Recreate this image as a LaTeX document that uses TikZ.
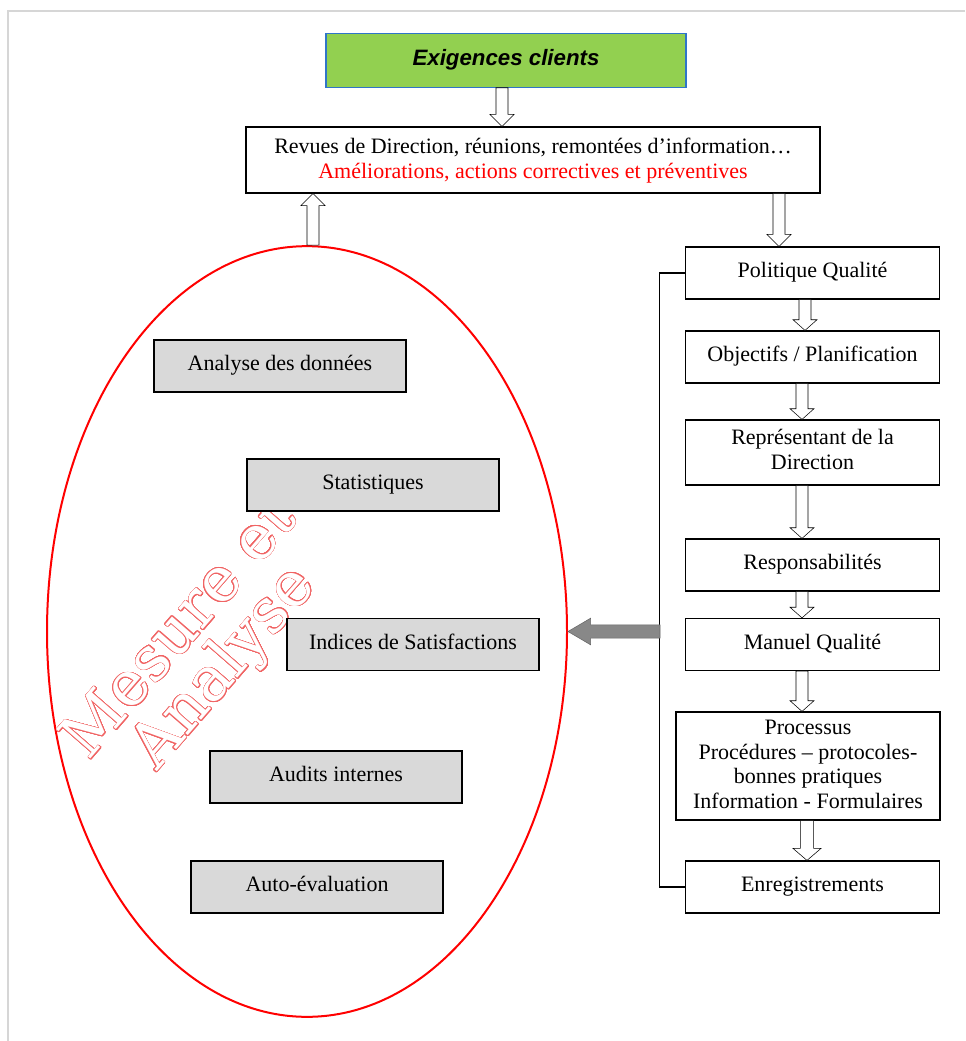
\documentclass[tikz,border=0pt]{standalone}
\usepackage{fontspec}
\setmainfont{Liberation Serif}
\newfontfamily\arialfont{Liberation Sans}
\newfontfamily\wordartfont{DejaVu Serif}
\usepackage{contour}
\contourlength{0.45pt}
\contournumber{32}
\usetikzlibrary{shapes,arrows}
\usetikzlibrary{calc,positioning}
\definecolor{exgreen}{RGB}{146,208,80}
\definecolor{exblue}{RGB}{47,117,200}
\definecolor{boxgray}{RGB}{217,217,217}
\definecolor{framegray}{RGB}{214,214,214}
\definecolor{arrowgray}{RGB}{136,136,136}
\definecolor{wordred}{RGB}{240,100,100}
\newcommand{\blockarrow}[6][fill=white]{
	\coordinate (bh) at ($(#3)!#6!(#2)$);
	\draw [#1] ($(#2)!#4!90:(#3)$) -- ($(bh)!#4!-90:(#2)$) -- ($(bh)!#5!-90:(#2)$) -- (#3) -- ($(bh)!#5!90:(#2)$) -- ($(bh)!#4!90:(#2)$) -- ($(#2)!#4!-90:(#3)$) -- cycle;
}
\newcommand{\wordart}[1]{\contour{wordred}{#1}}

\begin{document}
\begin{tikzpicture}[x=0.75pt,y=-0.75pt,
	qbox/.style={draw,fill=white,line width=0.9pt,minimum width=191pt,minimum height=39pt,text depth=0.45em,align=center,font=\fontsize{16.5}{18.5}\selectfont},
	gbox/.style={qbox,fill=boxgray,minimum width=189pt}]
\useasboundingbox (0,0) rectangle (965,1041);
\draw [framegray,line width=1.5pt] (8,1041)--(8,11)--(965,11);

\node [ellipse,draw=red,line width=1.5pt,minimum width=390pt,minimum height=578pt,inner sep=0pt] (meas) at (307,631.5) {};
\node [rotate=49,align=center,text=white,font=\wordartfont\fontsize{46.5}{43.5}\selectfont] (wm) at (204,650) {\wordart{Mesure et}\\\wordart{Analyse}};

\node [draw=exblue,fill=exgreen,line width=0.9pt,minimum width=270pt,minimum height=40pt,text depth=0.45em,font=\arialfont\bfseries\itshape\fontsize{16.7}{18}\selectfont] (ex) at (506,60.5) {Exigences clients};
\node [qbox,minimum width=430.5pt,minimum height=49.5pt,text depth=0.3em] (rev) at (533,160) {Revues de Direction, réunions, remontées d’information…\\\textcolor{red}{Améliorations, actions correctives et préventives}};

\node [qbox] (pol) at (812.5,273) {Politique Qualité};
\node [qbox] (obj) at (812.5,357) {Objectifs / Planification};
\node [qbox,minimum height=48.75pt] (rep) at (812.5,452.5) {Représentant de la\\Direction};
\node [qbox] (resp) at (812.5,565) {Responsabilités};
\node [qbox] (man) at (812.5,644.5) {Manuel Qualité};
\node [qbox,minimum width=198pt,minimum height=81pt,text depth=0.25em] (proc) at (808,766) {Processus\\Procédures -- protocoles-\\bonnes pratiques\\Information - Formulaires};
\node [qbox] (enr) at (812.5,887) {Enregistrements};

\node [gbox] (ana) at (280,366) {Analyse des données};
\node [gbox] (stat) at (373,485) {Statistiques};
\node [gbox] (ind) at (413,644.5) {Indices de Satisfactions};
\node [gbox] (aud) at (336,777) {Audits internes};
\node [gbox] (auto) at (317,887) {Auto-évaluation};

\coordinate (a1) at ($(ex.south)+(-4,0)$);
\blockarrow{a1}{a1 |- rev.north}{4.5pt}{9pt}{9pt}
\coordinate (a2) at ($(pol.north)+(-33.5,0)$);
\blockarrow{a2 |- rev.south}{a2}{4.5pt}{9pt}{9pt}
\coordinate (a3) at ($(meas.north)+(6,0)$);
\blockarrow{a3}{a3 |- rev.south}{4.5pt}{9pt}{9pt}

\foreach \a/\b/\x in {pol/obj/805,obj/rep/802,rep/resp/802,resp/man/802,man/proc/802}{
	\coordinate (t) at (\x,0 |- \a.south);
	\blockarrow{t}{t |- \b.north}{4.5pt}{9pt}{8pt}
}
\coordinate (a4) at (807,0 |- proc.south);
\blockarrow{a4}{a4 |- enr.north}{5pt}{10.5pt}{9pt}

\draw [line width=0.9pt] (pol.west)--++(-25,0) |- (enr.west);
\coordinate (brk) at (660,631.5);
\blockarrow[fill=arrowgray,draw=black!60]{brk}{meas.east}{5pt}{10pt}{17pt}
\end{tikzpicture}
\end{document}
